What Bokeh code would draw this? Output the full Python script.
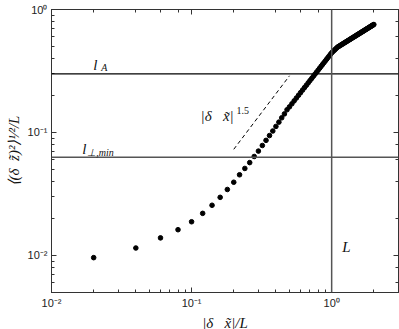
from bokeh.plotting import figure
from bokeh.models import (LogAxis, Span, Label, CustomJSTickFormatter, Range1d,
                          LogTicker)
from bokeh.embed import file_html
from bokeh.resources import INLINE

# ---- data ----
dx = [0.02, 0.04, 0.06, 0.08, 0.10, 0.12, 0.14, 0.16, 0.18, 0.20,
      0.22, 0.24, 0.26, 0.28, 0.30, 0.32, 0.34, 0.36, 0.38, 0.40,
      0.42, 0.44, 0.46, 0.48, 0.50, 0.52, 0.54, 0.56, 0.58, 0.60,
      0.62, 0.64, 0.66, 0.68, 0.70, 0.72, 0.74, 0.76, 0.78, 0.80,
      0.82, 0.84, 0.86, 0.88, 0.90, 0.92, 0.94, 0.96, 0.98, 1.00,
      1.02, 1.04, 1.06, 1.08, 1.10, 1.12, 1.14, 1.16, 1.18, 1.20,
      1.22, 1.24, 1.26, 1.28, 1.30, 1.32, 1.34, 1.36, 1.38, 1.40,
      1.42, 1.44, 1.46, 1.48, 1.50, 1.52, 1.54, 1.56, 1.58, 1.60,
      1.62, 1.64, 1.66, 1.68, 1.70, 1.72, 1.74, 1.76, 1.78, 1.80,
      1.82, 1.84, 1.86, 1.88, 1.90, 1.92, 1.94, 1.96, 1.98, 2.00]
dz = [0.0096, 0.0115, 0.0139, 0.0162, 0.0188, 0.0220, 0.0256, 0.0297, 0.0344, 0.0394,
      0.0453, 0.0510, 0.0569, 0.0638, 0.0706, 0.0784, 0.0863, 0.0944, 0.1028, 0.1120,
      0.1214, 0.1316, 0.1416, 0.1530, 0.1616, 0.1711, 0.1808, 0.1906, 0.2006, 0.2109,
      0.2212, 0.2317, 0.2423, 0.2531, 0.2641, 0.2751, 0.2864, 0.2978, 0.3093, 0.3209,
      0.3327, 0.3447, 0.3567, 0.3688, 0.3811, 0.3936, 0.4062, 0.4188, 0.4316, 0.4445,
      0.4545, 0.4642, 0.4740, 0.4838, 0.4937, 0.5001, 0.5064, 0.5127, 0.5189, 0.5252,
      0.5314, 0.5376, 0.5437, 0.5499, 0.5560, 0.5621, 0.5681, 0.5741, 0.5801, 0.5861,
      0.5920, 0.5979, 0.6038, 0.6097, 0.6155, 0.6213, 0.6271, 0.6329, 0.6386, 0.6444,
      0.6501, 0.6557, 0.6614, 0.6670, 0.6727, 0.6783, 0.6839, 0.6895, 0.6950, 0.7006,
      0.7062, 0.7117, 0.7172, 0.7227, 0.7282, 0.7337, 0.7391, 0.7445, 0.7499, 0.7551]

l_A = 0.30          # horizontal reference line l_A
l_perp_min = 0.063  # horizontal reference line l_perp,min
L_scale = 1.0       # vertical reference line L
slope_x = [0.20, 0.50]     # |dx|^1.5 guide
slope_y = [0.073, 0.289]

x_lo, x_hi = 0.01, 3.0
y_lo, y_hi = 0.005, 1.0

SERIF = "Liberation Serif"
SANS = "Liberation Sans"
INK = "#333333"
NB = "\u00a0"

p = figure(x_axis_type="log", y_axis_type="log",
           x_range=Range1d(x_lo, x_hi), y_range=Range1d(y_lo, y_hi),
           frame_width=347, frame_height=283,
           min_border_left=51, min_border_right=1, min_border_top=9, min_border_bottom=37,
           output_backend="svg", toolbar_location=None,
           background_fill_color="white", border_fill_color="white")
p.xgrid.visible = False
p.ygrid.visible = False
p.outline_line_color = INK

sup_code = """
const e = Math.round(Math.log10(tick));
const m = {"-":"\u207b","0":"\u2070","1":"\u00b9","2":"\u00b2","3":"\u00b3","4":"\u2074",
           "5":"\u2075","6":"\u2076","7":"\u2077","8":"\u2078","9":"\u2079"};
return "10" + String(e).split("").map(c => m[c]).join("");
"""

def style(ax, labels):
    ax.major_tick_in = 5
    ax.major_tick_out = 0
    ax.minor_tick_in = 3
    ax.minor_tick_out = 0
    ax.axis_line_color = INK
    ax.major_tick_line_color = INK
    ax.minor_tick_line_color = INK
    if labels:
        ax.formatter = CustomJSTickFormatter(code=sup_code)
        ax.major_label_text_font = SANS
        ax.major_label_text_font_size = "11px"
        ax.major_label_text_color = "#222222"
        ax.major_label_standoff = 4
    else:
        ax.formatter = CustomJSTickFormatter(code="return ''")
        ax.major_label_standoff = 0
        ax.major_label_text_font_size = "1px"

style(p.xaxis[0], True)
style(p.yaxis[0], True)
p.xaxis.axis_label = "|\u03b4" + NB * 3 + "x\u0303|/L"
p.yaxis.axis_label = "\u27e8(\u03b4" + NB * 2 + "z\u0303)\u00b2\u27e9\u00b9\u2044\u00b2/L"
for ax in (p.xaxis[0], p.yaxis[0]):
    ax.axis_label_text_font = SERIF
    ax.axis_label_text_font_style = "italic"
    ax.axis_label_text_font_size = "15px"
    ax.axis_label_text_color = "#111111"
    ax.axis_label_standoff = 3

top = LogAxis(ticker=LogTicker())
right = LogAxis(ticker=LogTicker())
style(top, False)
style(right, False)
p.add_layout(top, "above")
p.add_layout(right, "right")

# reference lines
p.add_layout(Span(location=l_A, dimension="width", line_color="black", line_width=1.2))
p.add_layout(Span(location=l_perp_min, dimension="width", line_color="#555555", line_width=1.5))
p.add_layout(Span(location=L_scale, dimension="height", line_color="#555555", line_width=1.5))

# slope guide
p.line(slope_x, slope_y, line_color="black", line_width=1, line_dash="4 3")

# data points
p.scatter(dx, dz, size=4.6, color="black")

# annotations
def lab(x, y, text, size="15px", xo=0, yo=0, style_="italic"):
    p.add_layout(Label(x=x, y=y, text=text, x_offset=xo, y_offset=yo,
                       text_font=SERIF, text_font_style=style_, text_font_size=size,
                       text_color="#111111", text_baseline="alphabetic", text_align="left"))

lab(0.0199, 0.356, "l")
lab(0.0199, 0.356, "A", size="10px", xo=8, yo=-3)
lab(0.0166, 0.0733, "l")
lab(0.0166, 0.0733, "\u22a5,min", size="10px", xo=5, yo=-3)
lab(0.116, 0.136, "|\u03b4" + NB * 3 + "x\u0303|")
lab(0.116, 0.136, "1.5", size="10px", xo=36, yo=6, style_="normal")
lab(1.19, 0.0118, "L")

open("out.html", "w").write(file_html(p, INLINE))
